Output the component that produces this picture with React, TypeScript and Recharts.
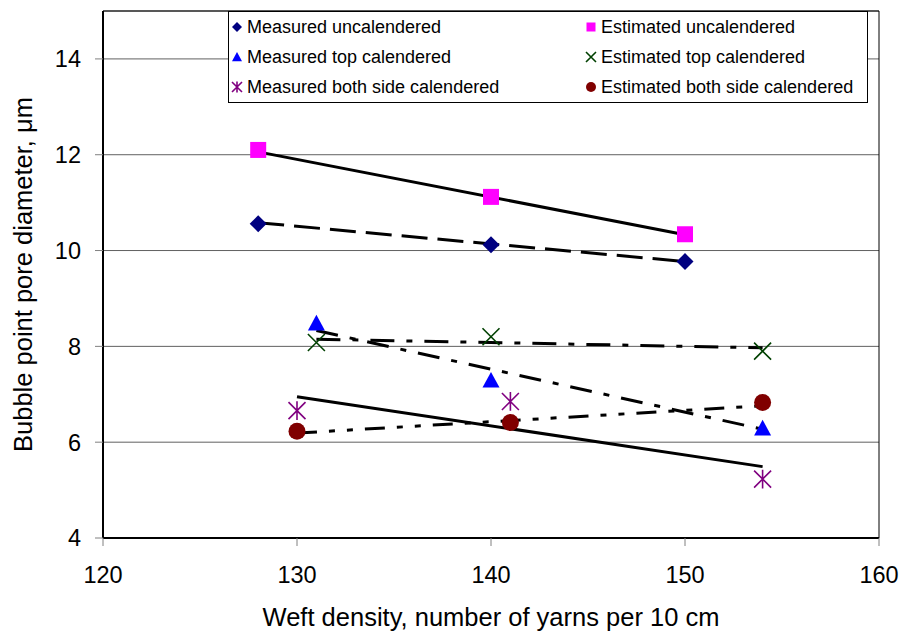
import React from "react";
import {
  CartesianGrid,
  ComposedChart,
  Legend,
  ReferenceArea,
  Scatter,
  XAxis,
  YAxis,
} from "recharts";

// weft densities (yarns / 10 cm) for each fabric group
const uncalenderedWeft = [128, 140, 150];
const topCalenderedWeft = [131, 140, 154];
const bothSideWeft = [130, 141, 154];

// bubble point pore diameter, µm
const measuredUncalendered = [10.56, 10.12, 9.77];
const estimatedUncalendered = [12.1, 11.12, 10.34];
const measuredTopCalendered = [8.48, 7.29, 6.29];
const estimatedTopCalendered = [8.08, 8.2, 7.9];
const measuredBothSide = [6.66, 6.85, 5.23];
const estimatedBothSide = [6.23, 6.41, 6.83];

// linear trend values at the first and last weft density of each group
const measuredUncalenderedTrend = [10.58, 9.77];
const estimatedUncalenderedTrend = [12.06, 10.33];
const measuredTopTrend = [8.33, 6.27];
const estimatedTopTrend = [8.15, 7.97];
const measuredBothTrend = [6.95, 5.49];
const estimatedBothTrend = [6.19, 6.76];

const xTicks = [120, 130, 140, 150, 160];
const yTicks = [4, 6, 8, 10, 12, 14];

const FONT = '"Liberation Sans", Arial, sans-serif';

type Marker = "diamond" | "square" | "triangle" | "cross" | "asterisk" | "circle";

function MarkerShape({ kind, cx, cy, color, r }: { kind: Marker; cx: number; cy: number; color: string; r: number }) {
  switch (kind) {
    case "diamond":
      return <path d={`M${cx} ${cy - r}L${cx + r} ${cy}L${cx} ${cy + r}L${cx - r} ${cy}Z`} fill={color} />;
    case "square":
      return <rect x={cx - r} y={cy - r} width={r * 2} height={r * 2} fill={color} />;
    case "triangle":
      return <path d={`M${cx} ${cy - r}L${cx + r} ${cy + r * 0.85}L${cx - r} ${cy + r * 0.85}Z`} fill={color} />;
    case "cross":
      return (
        <path
          d={`M${cx - r} ${cy - r}L${cx + r} ${cy + r}M${cx - r} ${cy + r}L${cx + r} ${cy - r}`}
          stroke={color}
          strokeWidth={1.6}
          fill="none"
        />
      );
    case "asterisk":
      return (
        <path
          d={`M${cx - r} ${cy - r}L${cx + r} ${cy + r}M${cx - r} ${cy + r}L${cx + r} ${cy - r}M${cx} ${cy - r * 1.1}L${cx} ${cy + r * 1.1}`}
          stroke={color}
          strokeWidth={1.6}
          fill="none"
        />
      );
    default:
      return <circle cx={cx} cy={cy} r={r} fill={color} />;
  }
}

const series = [
  { name: "Measured uncalendered", weft: uncalenderedWeft, values: measuredUncalendered, marker: "diamond" as Marker, color: "#000080" },
  { name: "Estimated uncalendered", weft: uncalenderedWeft, values: estimatedUncalendered, marker: "square" as Marker, color: "#FF00FF" },
  { name: "Measured top calendered", weft: topCalenderedWeft, values: measuredTopCalendered, marker: "triangle" as Marker, color: "#0000FF" },
  { name: "Estimated top calendered", weft: topCalenderedWeft, values: estimatedTopCalendered, marker: "cross" as Marker, color: "#004000" },
  { name: "Measured both side calendered", weft: bothSideWeft, values: measuredBothSide, marker: "asterisk" as Marker, color: "#800080" },
  { name: "Estimated both side calendered", weft: bothSideWeft, values: estimatedBothSide, marker: "circle" as Marker, color: "#800000" },
];

const trends = [
  { key: "mu", weft: uncalenderedWeft, values: measuredUncalenderedTrend, dash: "26 10" },
  { key: "eu", weft: uncalenderedWeft, values: estimatedUncalenderedTrend, dash: undefined },
  { key: "mt", weft: topCalenderedWeft, values: measuredTopTrend, dash: "22 12 6 12" },
  { key: "et", weft: topCalenderedWeft, values: estimatedTopTrend, dash: "24 12 6 12" },
  { key: "mb", weft: bothSideWeft, values: measuredBothTrend, dash: undefined },
  { key: "eb", weft: bothSideWeft, values: estimatedBothTrend, dash: "20 12 6 12 6 12" },
];

function LegendBox() {
  return (
    <div
      style={{
        position: "relative",
        width: 640,
        height: 92,
        border: "1px solid #000",
        background: "#fff",
        boxSizing: "border-box",
        fontFamily: FONT,
        fontSize: 18,
        color: "#000",
      }}
    >
      {series.map((s, i) => {
        const col = i % 2;
        const row = Math.floor(i / 2);
        return (
          <div
            key={s.name}
            style={{
              position: "absolute",
              left: col === 0 ? 1 : 355,
              top: 3 + row * 30,
              height: 24,
              display: "flex",
              alignItems: "center",
              whiteSpace: "nowrap",
            }}
          >
            <svg width={14} height={14} style={{ marginRight: 3 }}>
              <MarkerShape kind={s.marker} cx={7} cy={7} r={s.marker === "square" ? 4.5 : 5} color={s.color} />
            </svg>
            <span>{s.name}</span>
          </div>
        );
      })}
    </div>
  );
}

export default function App() {
  return (
    <div style={{ position: "absolute", left: 0, top: 0, width: 906, height: 637, background: "#fff", fontFamily: FONT }}>
      <ComposedChart width={906} height={637} margin={{ top: 11, right: 27, bottom: 0, left: 0 }}>
        <CartesianGrid horizontal vertical={false} stroke="#606060" strokeWidth={1} />
        <XAxis
          type="number"
          dataKey="x"
          domain={[120, 160]}
          ticks={xTicks}
          height={99}
          tickSize={8}
          tickMargin={20}
          axisLine={{ stroke: "#000", strokeWidth: 2 }}
          tickLine={{ stroke: "#808080" }}
          tick={{ fill: "#000", fontSize: 23.5, fontFamily: FONT }}
          label={{
            value: "Weft density, number of yarns per 10 cm",
            position: "center",
            dy: 29,
            fill: "#000",
            fontSize: 25.5,
            fontFamily: FONT,
          }}
        />
        <YAxis
          type="number"
          dataKey="y"
          domain={[4, 15]}
          ticks={yTicks}
          width={103}
          tickSize={8}
          tickMargin={14}
          axisLine={{ stroke: "#000", strokeWidth: 2 }}
          tickLine={{ stroke: "#808080" }}
          tick={{ fill: "#000", fontSize: 23.5, fontFamily: FONT }}
          label={{
            value: "Bubble point pore diameter, μm",
            position: "center",
            angle: -90,
            dx: -29,
            fill: "#000",
            fontSize: 25.5,
            fontFamily: FONT,
          }}
        />
        <ReferenceArea x1={120} x2={160} y1={4} y2={15} fill="none" stroke="#000" strokeWidth={1} />
        {trends.map((t) => (
          <Scatter
            key={t.key}
            data={[t.weft[0], t.weft[t.weft.length - 1]].map((x, i) => ({ x, y: t.values[i] }))}
            line={{ stroke: "#000", strokeWidth: 3, strokeDasharray: t.dash }}
            shape={() => <g />}
            legendType="none"
            isAnimationActive={false}
          />
        ))}
        {series.map((s) => (
          <Scatter
            key={s.name}
            name={s.name}
            data={s.weft.map((x, i) => ({ x, y: s.values[i] }))}
            fill={s.color}
            isAnimationActive={false}
            shape={(p: any) => <MarkerShape kind={s.marker} cx={p.cx} cy={p.cy} r={s.marker === "square" ? 8 : 8.5} color={s.color} />}
          />
        ))}
        <Legend
          layout="vertical"
          align="center"
          verticalAlign="middle"
          content={() => <LegendBox />}
          wrapperStyle={{ position: "absolute", left: 228, top: 11, width: 640, height: 92 }}
        />
      </ComposedChart>
    </div>
  );
}
